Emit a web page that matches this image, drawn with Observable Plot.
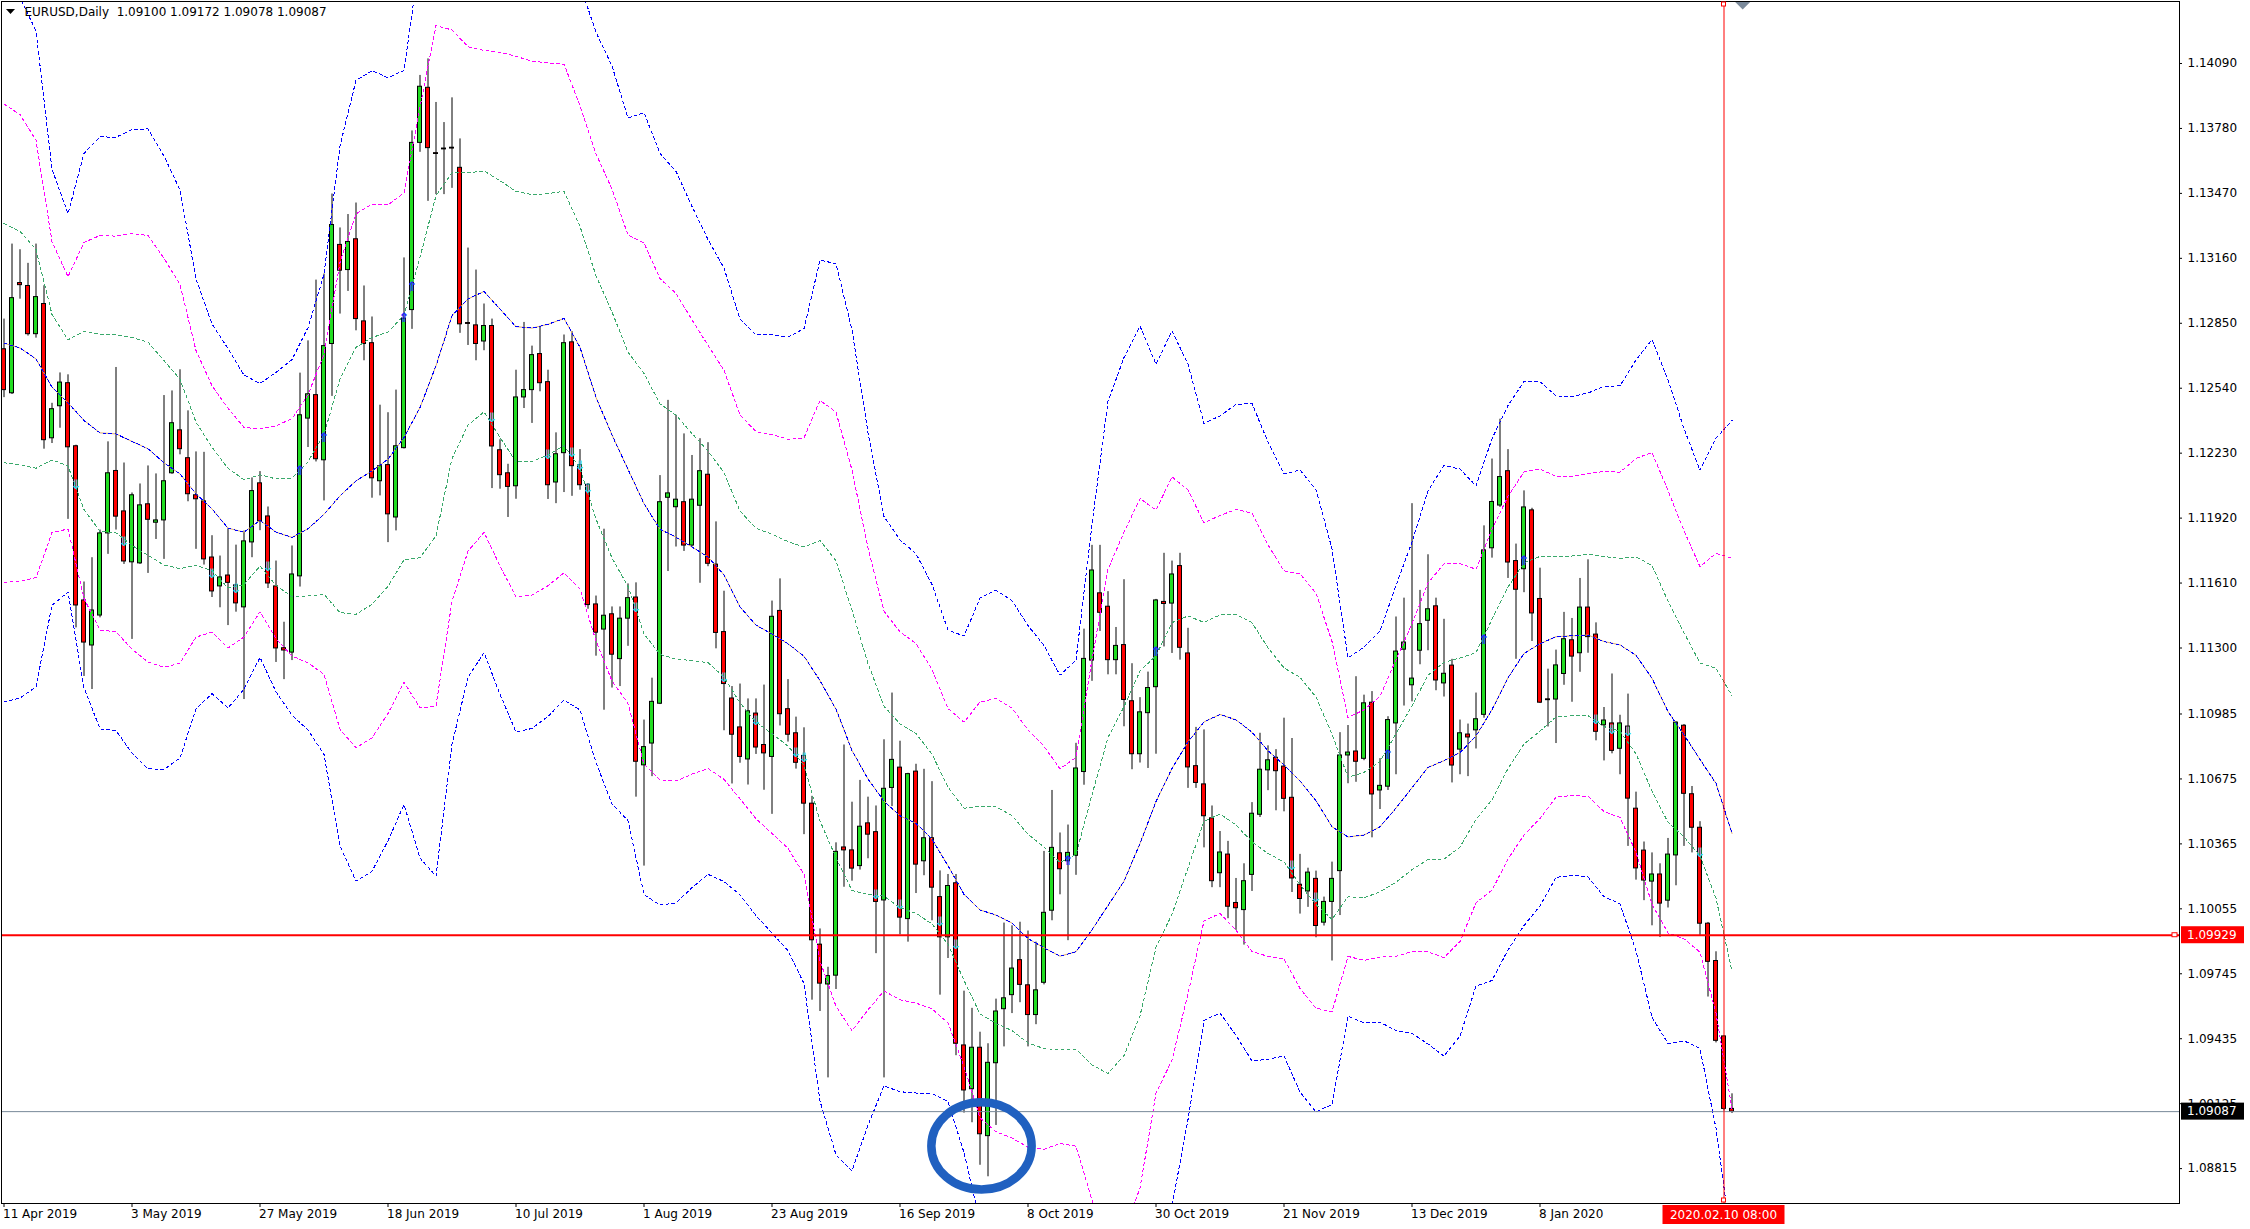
<!DOCTYPE html>
<html><head><meta charset="utf-8">
<script src="https://cdn.jsdelivr.net/npm/d3@7"></script>
<script src="https://cdn.jsdelivr.net/npm/@observablehq/plot@0.6"></script>
<style>
html,body{margin:0;padding:0;background:#fff;}
#chart{width:2250px;height:1229px;overflow:hidden;}
svg{display:block;}
</style></head><body><div id="chart"></div>
<script>
// ---------------- DATA ----------------
const symbolTitle = "EURUSD,Daily";
const lastBarOHLC = [1.09100, 1.09172, 1.09078, 1.09087];

// Daily candles, bar 0 = 11 Apr 2019 ... bar 216 = 11 Feb 2020
const open = [
1.12726,1.12516,1.13042,1.13028,1.12798,1.12942,1.12301,1.12454,1.12564,1.12263,
1.11527,1.11312,1.11455,1.11847,1.12145,1.11952,1.11709,1.11704,1.11986,1.11898,
1.11909,1.12134,1.12339,1.12206,1.12029,1.12000,1.11732,1.11594,1.11646,1.11599,
1.11494,1.11804,1.12086,1.11928,1.11594,1.11299,1.11278,1.11642,1.12395,1.12507,
1.12196,1.12751,1.13224,1.13104,1.13251,1.12859,1.12755,1.12096,1.12173,1.11923,
1.12254,1.12913,1.13711,1.13974,1.13662,1.13684,1.13688,1.13592,1.12851,1.12840,
1.12763,1.12837,1.12244,1.12134,1.12072,1.12496,1.12531,1.12703,1.12569,1.12090,
1.12230,1.12759,1.12173,1.12079,1.11508,1.11388,1.11461,1.11247,1.11440,1.11541,
1.10740,1.10844,1.11034,1.12017,1.11972,1.11996,1.11789,1.11979,1.12127,1.11698,
1.11376,1.11059,1.10921,1.10768,1.10987,1.10837,1.10780,1.11477,1.11008,1.10893,
1.10785,1.10557,1.09884,1.09694,1.09736,1.10348,1.10334,1.10259,1.10463,1.10421,
1.10095,1.10632,1.10729,1.10006,1.10710,1.10282,1.10392,1.10111,1.09919,1.10177,
1.09403,1.09194,1.09392,1.08970,1.09318,1.09576,1.09643,1.09810,1.09690,1.09548,
1.09702,1.10046,1.10320,1.10282,1.10308,1.10708,1.11240,1.11561,1.11497,1.11242,
1.11314,1.11046,1.10793,1.10989,1.11113,1.11520,1.11512,1.11691,1.11274,1.10736,
1.10649,1.10487,1.10225,1.10314,1.10083,1.10049,1.10217,1.10504,1.10716,1.10776,
1.10734,1.10585,1.10170,1.10138,1.10198,1.09989,1.10088,1.10235,1.10787,1.10806,
1.10771,1.11039,1.10620,1.10638,1.10940,1.11292,1.11122,1.11287,1.11430,1.11499,
1.11131,1.11216,1.10815,1.10887,1.10907,1.10981,1.11776,1.11980,1.12144,1.11715,
1.11676,1.11957,1.11534,1.11055,1.11054,1.11176,1.11337,1.11275,1.11493,1.11364,
1.10931,1.10940,1.10819,1.10925,1.10533,1.10333,1.10185,1.10219,1.10094,1.10310,
1.10929,1.10602,1.10442,1.09984,1.09806,1.09446,1.09100];
const high = [
1.12870,1.13228,1.13201,1.13136,1.13228,1.13029,1.12468,1.12613,1.12604,1.12268,
1.11615,1.11731,1.11863,1.12284,1.12639,1.12183,1.12040,1.12083,1.12169,1.12131,
1.12505,1.12527,1.12628,1.12432,1.12236,1.12234,1.11836,1.11739,1.11869,1.11791,
1.11858,1.12112,1.12142,1.11973,1.11715,1.11423,1.11787,1.12612,1.12766,1.13056,
1.13085,1.13467,1.13305,1.13369,1.13424,1.13028,1.12880,1.12459,1.12423,1.12531,
1.13162,1.13768,1.14033,1.14112,1.13904,1.13808,1.13926,1.13730,1.13209,1.13104,
1.12942,1.12870,1.12294,1.12177,1.12626,1.12854,1.12741,1.12834,1.12626,1.12327,
1.12794,1.12810,1.12247,1.12085,1.11548,1.11867,1.11496,1.11496,1.11606,1.11611,
1.10956,1.11156,1.12123,1.12482,1.12411,1.12322,1.12219,1.12299,1.12280,1.11902,
1.11571,1.11116,1.11128,1.11057,1.11057,1.11123,1.11524,1.11630,1.11149,1.10970,
1.10919,1.10592,1.09959,1.09776,1.10370,1.10837,1.10564,1.10668,1.10588,1.10546,
1.10862,1.11085,1.10855,1.10702,1.10745,1.10721,1.10662,1.10236,1.10219,1.10219,
1.09662,1.09580,1.09466,1.09411,1.09624,1.09987,1.09974,1.09991,1.09949,1.09896,
1.10329,1.10620,1.10417,1.10455,1.10845,1.11390,1.11790,1.11790,1.11569,1.11398,
1.11626,1.11225,1.11063,1.11185,1.11532,1.11752,1.11715,1.11752,1.11394,1.10921,
1.10909,1.10546,1.10424,1.10377,1.10200,1.10270,1.10562,1.10893,1.10833,1.10815,
1.10965,1.10868,1.10315,1.10249,1.10235,1.10111,1.10278,1.10896,1.10930,1.11163,
1.11075,1.11092,1.10772,1.10972,1.11448,1.11538,1.11989,1.11575,1.11745,1.11538,
1.11437,1.11246,1.10956,1.10937,1.11085,1.11883,1.12202,1.12392,1.12247,1.11796,
1.12050,1.11967,1.11681,1.11199,1.11290,1.11470,1.11441,1.11632,1.11721,1.11420,
1.11016,1.11176,1.10979,1.11080,1.10612,1.10374,1.10322,1.10270,1.10391,1.10948,
1.10935,1.10639,1.10471,1.09990,1.09850,1.09450,1.09172];
const low = [
1.12495,1.12510,1.12965,1.12789,1.12779,1.12249,1.12276,1.12349,1.11914,1.11396,
1.11164,1.11102,1.11444,1.11747,1.11863,1.11699,1.11341,1.11699,1.11656,1.11818,
1.11723,1.12129,1.12222,1.11998,1.11771,1.11696,1.11541,1.11492,1.11407,1.11471,
1.11054,1.11731,1.11860,1.11584,1.11231,1.11149,1.11240,1.11591,1.12257,1.12188,
1.12002,1.12501,1.12894,1.13002,1.12814,1.12671,1.12015,1.12026,1.11803,1.11859,
1.12250,1.12821,1.13666,1.13432,1.13464,1.13464,1.13494,1.12802,1.12744,1.12671,
1.12719,1.12061,1.12058,1.11923,1.12010,1.12443,1.12372,1.12523,1.12009,1.11989,
1.12042,1.12024,1.12053,1.11485,1.11261,1.11003,1.11109,1.11116,1.11308,1.10588,
1.10259,1.10686,1.11030,1.11665,1.11782,1.11761,1.11782,1.11609,1.11688,1.11296,
1.10905,1.10651,1.10750,1.10646,1.10792,1.10621,1.10506,1.10928,1.10851,1.10722,
1.10409,1.09619,1.09565,1.09248,1.09670,1.10158,1.10187,1.10240,1.10294,1.09841,
1.09248,1.10543,1.09931,1.09896,1.10128,1.10213,1.09998,1.09643,1.09818,1.09354,
1.09080,1.09034,1.08831,1.08776,1.09021,1.09396,1.09555,1.09607,1.09396,1.09502,
1.09692,1.09998,1.10122,1.09903,1.10215,1.10645,1.11141,1.11379,1.11172,1.11172,
1.10924,1.10719,1.10751,1.10725,1.10793,1.11305,1.11274,1.11242,1.10630,1.10630,
1.10346,1.10156,1.10156,1.10008,1.09952,1.09882,1.10138,1.10491,1.10619,1.10523,
1.10518,1.10133,1.10030,1.10062,1.09917,1.09973,1.09806,1.10023,1.10652,1.10659,
1.10762,1.10394,1.10529,1.10620,1.10695,1.11023,1.11043,1.11220,1.11287,1.11096,
1.11066,1.10656,1.10695,1.10686,1.10818,1.10965,1.11729,1.11971,1.11632,1.11246,
1.11564,1.11331,1.11035,1.10923,1.10844,1.11122,1.11041,1.11184,1.11275,1.10857,
1.10761,1.10795,1.10695,1.10353,1.10192,1.10094,1.09974,1.09918,1.10059,1.10165,
1.10353,1.10322,1.09928,1.09634,1.09415,1.09090,1.09078];
const close = [
1.12531,1.12970,1.13032,1.12798,1.12975,1.12292,1.12440,1.12567,1.12258,1.11503,
1.11326,1.11479,1.11847,1.12134,1.11927,1.11713,1.12029,1.11981,1.11912,1.11909,
1.12096,1.12373,1.12249,1.12034,1.12010,1.11723,1.11570,1.11637,1.11611,1.11513,
1.11809,1.12049,1.11904,1.11608,1.11298,1.11288,1.11651,1.12411,1.12511,1.12201,
1.12741,1.13319,1.13101,1.13238,1.12870,1.12751,1.12110,1.12168,1.11938,1.12263,
1.12872,1.13711,1.13979,1.13686,1.13658,1.13680,1.13684,1.12845,1.12847,1.12751,
1.12837,1.12262,1.12125,1.12069,1.12496,1.12531,1.12698,1.12564,1.12077,1.12225,
1.12755,1.12168,1.12077,1.11505,1.11373,1.11454,1.11268,1.11440,1.11538,1.10757,
1.10827,1.11043,1.11996,1.12038,1.12008,1.11789,1.12008,1.12144,1.11702,1.11372,
1.11128,1.10886,1.10780,1.10998,1.10825,1.10797,1.11449,1.10984,1.10886,1.10752,
1.10557,1.09905,1.09698,1.09734,1.10327,1.10334,1.10247,1.10447,1.10409,1.10088,
1.10628,1.10766,1.10013,1.10698,1.10266,1.10392,1.10156,1.09919,1.10164,1.09411,
1.09188,1.09392,1.08979,1.09320,1.09565,1.09628,1.09770,1.09692,1.09548,1.09666,
1.10036,1.10346,1.10244,1.10322,1.10725,1.11248,1.11670,1.11468,1.11242,1.11310,
1.11052,1.10793,1.10993,1.11109,1.11527,1.11510,1.11651,1.11301,1.10730,1.10656,
1.10497,1.10187,1.10324,1.10065,1.10058,1.10187,1.10509,1.10719,1.10764,1.10712,
1.10580,1.10200,1.10102,1.10228,1.09973,1.10088,1.10198,1.10787,1.10801,1.10757,
1.11036,1.10601,1.10642,1.10956,1.11283,1.11326,1.11154,1.11414,1.11485,1.11145,
1.11177,1.10739,1.10893,1.10873,1.10960,1.11766,1.11997,1.12116,1.11708,1.11578,
1.11971,1.11465,1.11039,1.11051,1.11217,1.11342,1.11259,1.11493,1.11352,1.10900,
1.10954,1.10809,1.10940,1.10581,1.10248,1.10190,1.10219,1.10080,1.10314,1.10944,
1.10604,1.10442,1.09984,1.09802,1.09425,1.09100,1.09087];

// Bollinger-style envelope: middle line and one deviation, read every 2 bars
const bandBars = [
0,2,4,6,8,10,12,14,16,18,20,22,24,26,28,30,32,34,36,38,
40,42,44,46,48,50,52,54,56,58,60,62,64,66,68,70,72,74,76,78,
80,82,84,86,88,90,92,94,96,98,100,102,104,106,108,110,112,114,116,118,
120,122,124,126,128,130,132,134,136,138,140,142,144,146,148,150,152,154,156,158,
160,162,164,166,168,170,172,174,176,178,180,182,184,186,188,190,192,194,196,198,
200,202,204,206,208,210,212,214,216];
const bbMiddle = [
1.12755,1.12732,1.12680,1.12545,1.12470,1.12386,1.12327,1.12322,1.12286,1.12251,
1.12184,1.12131,1.12036,1.11964,1.11872,1.11853,1.11909,1.11853,1.11828,1.11869,
1.11938,1.12026,1.12098,1.12145,1.12201,1.12305,1.12448,1.12647,1.12886,1.12966,
1.13002,1.12918,1.12834,1.12827,1.12845,1.12873,1.12735,1.12496,1.12317,1.12153,
1.11989,1.11867,1.11829,1.11782,1.11735,1.11649,1.11496,1.11409,1.11367,1.11320,
1.11261,1.11144,1.11008,1.10811,1.10675,1.10569,1.10499,1.10463,1.10388,1.10261,
1.10124,1.10050,1.10025,1.09987,1.09913,1.09869,1.09829,1.09850,1.09955,1.10071,
1.10187,1.10367,1.10567,1.10725,1.10852,1.10947,1.10983,1.10957,1.10898,1.10810,
1.10742,1.10665,1.10571,1.10447,1.10398,1.10407,1.10447,1.10536,1.10633,1.10730,
1.10762,1.10801,1.10880,1.11006,1.11158,1.11274,1.11320,1.11354,1.11358,1.11362,
1.11331,1.11315,1.11265,1.11155,1.10996,1.10886,1.10768,1.10654,1.10415];
const bbDeviation = [
0.00571,0.00557,0.00522,0.00347,0.00301,0.00425,0.00471,0.00472,0.00496,0.00509,
0.00488,0.00452,0.00342,0.00294,0.00286,0.00250,0.00218,0.00254,0.00283,0.00320,
0.00382,0.00557,0.00637,0.00637,0.00607,0.00584,0.00717,0.00812,0.00682,0.00602,
0.00575,0.00613,0.00645,0.00637,0.00624,0.00607,0.00577,0.00581,0.00587,0.00559,
0.00622,0.00598,0.00582,0.00542,0.00505,0.00488,0.00458,0.00462,0.00476,0.00488,
0.00521,0.00669,0.00709,0.00669,0.00551,0.00453,0.00439,0.00429,0.00405,0.00375,
0.00411,0.00496,0.00517,0.00513,0.00498,0.00481,0.00447,0.00464,0.00645,0.00802,
0.00833,0.00823,0.00696,0.00696,0.00601,0.00475,0.00475,0.00502,0.00523,0.00491,
0.00463,0.00495,0.00495,0.00442,0.00285,0.00299,0.00311,0.00354,0.00391,0.00440,
0.00470,0.00451,0.00398,0.00431,0.00433,0.00433,0.00417,0.00383,0.00381,0.00385,
0.00406,0.00412,0.00470,0.00539,0.00528,0.00487,0.00460,0.00549,0.00657];
const bandLevels = [1, 2, 3];

// Signal arrows drawn on the envelope lines
const signalUpBars   = [37, 40, 50, 51, 133, 144, 173, 185, 190];
const signalUpPrices = [1.12147,1.12305,1.12875,1.13025,1.10286,1.11280,1.10792,1.11340,1.11714];
const signalDownBars   = [9,15,26,29,33,61,68,71,72,73,79,90,94,99,100,109,112,117,119,161,164,199,201,203,212];
const signalDownPrices = [1.12081,1.11805,1.11654,1.11583,1.11686,1.12400,1.12220,1.12233,1.12169,1.12058,
  1.11491,1.11160,1.10952,1.10799,1.10778,1.10123,1.10076,1.09991,1.09882,1.10262,1.10108,1.10958,1.10909,1.10898,1.10322];

// Axis ticks
const priceTicks = [1.14090,1.13780,1.13470,1.13160,1.12850,1.12540,1.12230,1.11920,1.11610,1.11300,
  1.10985,1.10675,1.10365,1.10055,1.09745,1.09435,1.09125,1.08815];
const dateTickBars = [0,16,32,48,64,80,96,112,128,144,160,176,192];
const dateTickLabels = ["11 Apr 2019","3 May 2019","27 May 2019","18 Jun 2019","10 Jul 2019","1 Aug 2019",
  "23 Aug 2019","16 Sep 2019","8 Oct 2019","30 Oct 2019","21 Nov 2019","13 Dec 2019","8 Jan 2020"];

// Lines / annotations
const markerBar = 215, markerLabel = "2020.02.10 08:00";
const levelPrice = 1.09929;
const bidPrice = 1.09087;
const circleBar = 122.25, circlePrice = 1.08921, circleHalfBars = 6.27, circleHalfPrice = 0.00208;

// ---------------- LAYOUT ----------------
const W = 2250, H = 1229, mL = 1, mR = 71, mT = 1, mB = 26;
const xDomain = [-0.3125, 271.9375];
const yDomain = [1.086485, 1.143859];
const pxPerBar = (W - mL - mR) / (xDomain[1] - xDomain[0]);
const pxPerPrice = (H - mT - mB) / (yDomain[1] - yDomain[0]);

const bullColor = "#22dd22", bearColor = "#ff0000";
const candles = open.map((o, i) => ({bar: i, o, h: high[i], l: low[i], c: close[i]}));
const bull = candles.filter(d => d.c > d.o);
const bear = candles.filter(d => d.c <= d.o);
const halfBody = 2 / pxPerBar;

const bands = bandBars.map((b, k) => ({bar: b, mid: bbMiddle[k], dev: bbDeviation[k]}));
const bandColors = {1: "#3aa96b", 2: "#ff00ff", 3: "#0000ff"};
const bandMarks = [];
for (const m of bandLevels) {
  for (const s of [1, -1]) {
    bandMarks.push(Plot.line(bands, {x: "bar", y: d => d.mid + s * m * d.dev,
      stroke: bandColors[m], strokeWidth: 1, strokeDasharray: "3,3", shapeRendering: "crispEdges", clip: true}));
  }
}
const ups = signalUpBars.map((b, k) => ({bar: b, price: signalUpPrices[k]}));
const downs = signalDownBars.map((b, k) => ({bar: b, price: signalDownPrices[k]}));
const dateTicks = dateTickBars.map((b, k) => ({bar: b, label: dateTickLabels[k]}));
const headerText = symbolTitle + "\u00a0 " + lastBarOHLC.map(v => v.toFixed(5)).join(" ");

const plot = Plot.plot({
  width: W, height: H,
  marginLeft: mL, marginRight: mR, marginTop: mT, marginBottom: mB,
  x: {domain: xDomain, axis: null},
  y: {domain: yDomain, axis: null},
  style: {background: "white", fontFamily: "DejaVu Sans", fontSize: "12px", color: "black", overflow: "hidden"},
  marks: [
    // candles
    Plot.ruleX(candles, {x: "bar", y1: "l", y2: "h", stroke: "black", strokeWidth: 1}),
    Plot.rect(bull, {x1: d => d.bar - halfBody, x2: d => d.bar + halfBody, y1: "o", y2: "c",
      fill: bullColor, stroke: "black", strokeWidth: 1}),
    Plot.rect(bear, {x1: d => d.bar - halfBody, x2: d => d.bar + halfBody, y1: "o", y2: "c",
      fill: bearColor, stroke: "black", strokeWidth: 1}),
    // envelope
    ...bandMarks,
    Plot.line(bands, {x: "bar", y: "mid", stroke: "#d9a871", strokeWidth: 1, clip: true}),
    Plot.line(bands, {x: "bar", y: "mid", stroke: "#0000ff", strokeWidth: 1, strokeDasharray: "3,3", shapeRendering: "crispEdges", clip: true}),
    // signals
    Plot.text(downs, {x: "bar", y: "price", text: () => "\u21d3", fill: "#1fd6e8", fontSize: 13, fontWeight: "bold"}),
    Plot.text(ups, {x: "bar", y: "price", text: () => "\u21d1", fill: "#2323ff", fontSize: 13, fontWeight: "bold"}),
    // horizontal / vertical lines
    Plot.ruleY([bidPrice], {y: d => d, stroke: "#778899", strokeWidth: 1}),
    Plot.ruleY([levelPrice], {y: d => d, stroke: "#ff0000", strokeWidth: 2}),
    Plot.ruleX([markerBar], {x: d => d, stroke: "#ff0000", strokeWidth: 1}),
    // right price axis
    Plot.ruleY(priceTicks, {y: d => d, x1: () => xDomain[1], x2: () => xDomain[1] + 3 / pxPerBar, stroke: "black"}),
    Plot.text(priceTicks, {x: () => xDomain[1], y: d => d, text: d => d.toFixed(5), textAnchor: "start", dx: 8, fill: "black"}),
    // bottom date axis
    Plot.ruleX(dateTickBars, {x: d => d, y1: () => yDomain[0], y2: () => yDomain[0] - 4 / pxPerPrice, stroke: "black"}),
    Plot.text(dateTicks, {x: "bar", y: () => yDomain[0], text: "label", textAnchor: "start", dx: -1, dy: 11, fill: "black"}),
    // header
    Plot.text([headerText], {frameAnchor: "top-left", text: d => d, textAnchor: "start", lineAnchor: "top", dx: 23, dy: 6, fill: "black"}),
    Plot.frame({stroke: "black", strokeWidth: 1})
  ]
});
document.getElementById("chart").appendChild(plot);

// ---------------- annotations placed through the plot's scales ----------------
const sx = plot.scale("x"), sy = plot.scale("y");
const X = (sx && sx.apply) ? (v => sx.apply(v)) : d3.scaleLinear().domain(xDomain).range([mL, W - mR]);
const Y = (sy && sy.apply) ? (v => sy.apply(v)) : d3.scaleLinear().domain(yDomain).range([H - mB, mT]);
const svg = d3.select(plot.tagName.toLowerCase() === "svg" ? plot : plot.querySelector("svg"));
const g = svg.append("g").attr("font-family", "DejaVu Sans").attr("font-size", 12).attr("text-anchor", "start");

// circled area
g.append("ellipse")
  .attr("cx", X(circleBar)).attr("cy", Y(circlePrice))
  .attr("rx", X(circleBar + circleHalfBars) - X(circleBar))
  .attr("ry", Y(circlePrice - circleHalfPrice) - Y(circlePrice))
  .attr("fill", "none").attr("stroke", "#2060c0").attr("stroke-width", 8.5);

// price boxes on the right scale
function priceBox(price, fill) {
  const y = Y(price);
  g.append("rect").attr("x", W - mR + 2).attr("y", y - 8.5).attr("width", 63).attr("height", 17).attr("fill", fill);
  g.append("text").attr("x", W - mR + 8).attr("y", y).attr("dy", "0.36em").attr("text-anchor", "start")
    .attr("fill", "white").text(price.toFixed(5));
}
priceBox(levelPrice, "#ff0000");
priceBox(bidPrice, "#000000");

// time label of the vertical line
const vx = X(markerBar);
g.append("rect").attr("x", vx - 61).attr("y", H - mB + 2).attr("width", 122).attr("height", 19).attr("fill", "#ff0000");
g.append("text").attr("x", vx).attr("y", H - mB + 11.5).attr("dy", "0.36em").attr("text-anchor", "middle")
  .attr("fill", "white").text(markerLabel);

// small anchor squares of the line objects
g.append("rect").attr("x", vx - 2).attr("y", 2).attr("width", 4).attr("height", 4).attr("fill", "white").attr("stroke", "#ff0000");
g.append("rect").attr("x", vx - 2).attr("y", H - mB - 5).attr("width", 4).attr("height", 4).attr("fill", "white").attr("stroke", "#ff0000");
g.append("rect").attr("x", W - mR - 7).attr("y", Y(levelPrice) - 2).attr("width", 5).attr("height", 4).attr("fill", "white").attr("stroke", "#ff0000");

// chart-shift marker and header triangle
const shiftX = X(open.length - 1 + 1.4);
g.append("path").attr("d", `M${shiftX - 7.5},2L${shiftX + 7.5},2L${shiftX},9.5Z`).attr("fill", "#7b8a9b");
g.append("path").attr("d", "M6,9L15,9L10.5,14Z").attr("fill", "black");
</script>
</body></html>
